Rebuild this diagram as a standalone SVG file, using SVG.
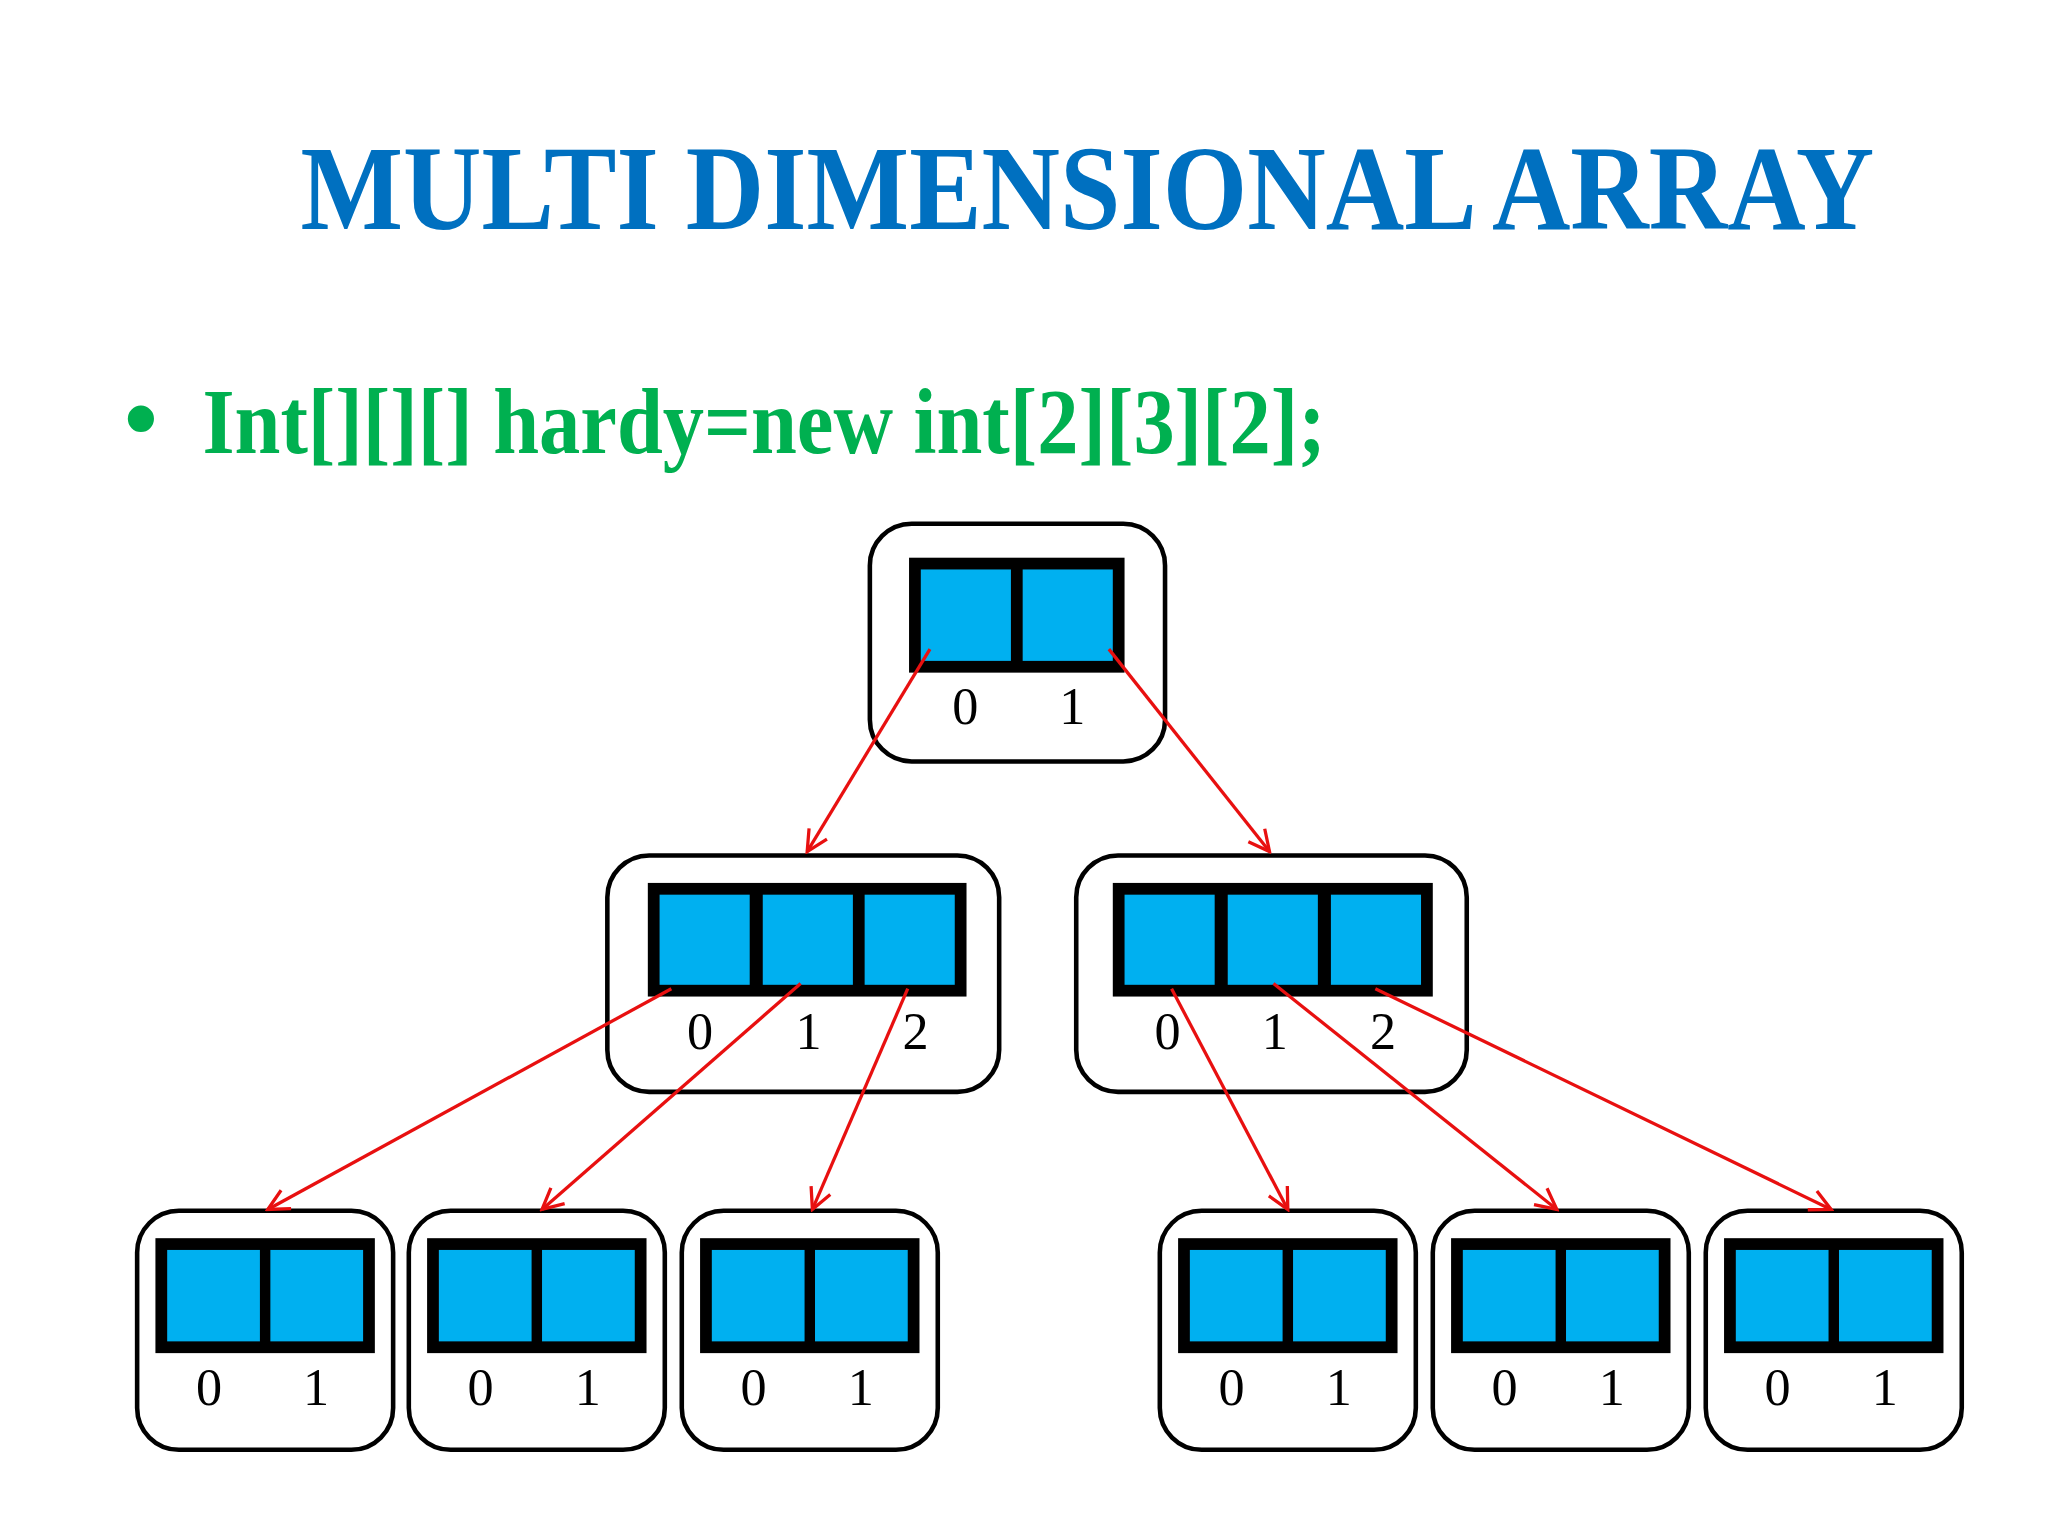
<svg xmlns="http://www.w3.org/2000/svg" width="2048" height="1536" viewBox="0 0 2048 1536">
<defs>
<style>
.box{fill:#fff;stroke:#000;stroke-width:3.5}
.arr{fill:#000}
.cell{fill:#00B0F0}
.lbl{font-family:"Liberation Serif",serif;font-size:40px;fill:#000;text-anchor:middle}
.con{stroke:#E81010;stroke-width:2.5;fill:none;marker-end:url(#ah)}
</style>
<marker id="ah" viewBox="0 0 20 20" refX="18" refY="10" markerWidth="20" markerHeight="20" markerUnits="userSpaceOnUse" orient="auto">
<path d="M2,2 L18,10 L2,18" fill="none" stroke="#E81010" stroke-width="2.5"/>
</marker>
</defs>
<rect width="2048" height="1536" fill="#fff"/>
<g transform="scale(1.3061)">
<text x="230" y="175" font-family="Liberation Serif,serif" font-weight="bold" font-size="93" fill="#0070C0" textLength="1205" lengthAdjust="spacingAndGlyphs">MULTI DIMENSIONAL ARRAY</text>
<text x="95" y="345" font-family="Liberation Serif,serif" font-weight="bold" font-size="74" fill="#00B050">•</text>
<text x="155" y="347" font-family="Liberation Serif,serif" font-weight="bold" font-size="72" fill="#00B050" textLength="860" lengthAdjust="spacingAndGlyphs">Int[][][] hardy=new int[2][3][2];</text>

<g id="top">
<rect class="box" x="666" y="401" width="226" height="182" rx="32"/>
<rect class="arr" x="696" y="427" width="165" height="88"/>
<rect class="cell" x="705" y="436" width="69" height="70"/>
<rect class="cell" x="783" y="436" width="69" height="70"/>
<text class="lbl" x="739" y="554">0</text><text class="lbl" x="821" y="554">1</text>
</g>
<g id="midL">
<rect class="box" x="465" y="655" width="300" height="181" rx="32"/>
<rect class="arr" x="496" y="676" width="244" height="87"/>
<rect class="cell" x="505" y="685" width="69" height="69"/>
<rect class="cell" x="584" y="685" width="69" height="69"/>
<rect class="cell" x="662" y="685" width="69" height="69"/>
<text class="lbl" x="536" y="803">0</text><text class="lbl" x="619" y="803">1</text><text class="lbl" x="701" y="803">2</text>
</g>
<g id="midR">
<rect class="box" x="824" y="655" width="299" height="181" rx="32"/>
<rect class="arr" x="852" y="676" width="245" height="87"/>
<rect class="cell" x="861" y="685" width="69" height="69"/>
<rect class="cell" x="940" y="685" width="69" height="69"/>
<rect class="cell" x="1019" y="685" width="69" height="69"/>
<text class="lbl" x="894" y="803">0</text><text class="lbl" x="976" y="803">1</text><text class="lbl" x="1059" y="803">2</text>
</g>
<g id="b1" transform="translate(105,927)"><rect class="box" x="0" y="0" width="196" height="183" rx="32"/><rect class="arr" x="14" y="21" width="168" height="88"/><rect class="cell" x="23" y="30" width="71" height="70"/><rect class="cell" x="102" y="30" width="71" height="70"/><text class="lbl" x="55" y="149">0</text><text class="lbl" x="137" y="149">1</text></g>
<g id="b2" transform="translate(313,927)"><rect class="box" x="0" y="0" width="196" height="183" rx="32"/><rect class="arr" x="14" y="21" width="168" height="88"/><rect class="cell" x="23" y="30" width="71" height="70"/><rect class="cell" x="102" y="30" width="71" height="70"/><text class="lbl" x="55" y="149">0</text><text class="lbl" x="137" y="149">1</text></g>
<g id="b3" transform="translate(522,927)"><rect class="box" x="0" y="0" width="196" height="183" rx="32"/><rect class="arr" x="14" y="21" width="168" height="88"/><rect class="cell" x="23" y="30" width="71" height="70"/><rect class="cell" x="102" y="30" width="71" height="70"/><text class="lbl" x="55" y="149">0</text><text class="lbl" x="137" y="149">1</text></g>
<g id="b4" transform="translate(888,927)"><rect class="box" x="0" y="0" width="196" height="183" rx="32"/><rect class="arr" x="14" y="21" width="168" height="88"/><rect class="cell" x="23" y="30" width="71" height="70"/><rect class="cell" x="102" y="30" width="71" height="70"/><text class="lbl" x="55" y="149">0</text><text class="lbl" x="137" y="149">1</text></g>
<g id="b5" transform="translate(1097,927)"><rect class="box" x="0" y="0" width="196" height="183" rx="32"/><rect class="arr" x="14" y="21" width="168" height="88"/><rect class="cell" x="23" y="30" width="71" height="70"/><rect class="cell" x="102" y="30" width="71" height="70"/><text class="lbl" x="55" y="149">0</text><text class="lbl" x="137" y="149">1</text></g>
<g id="b6" transform="translate(1306,927)"><rect class="box" x="0" y="0" width="196" height="183" rx="32"/><rect class="arr" x="14" y="21" width="168" height="88"/><rect class="cell" x="23" y="30" width="71" height="70"/><rect class="cell" x="102" y="30" width="71" height="70"/><text class="lbl" x="55" y="149">0</text><text class="lbl" x="137" y="149">1</text></g>

<g id="connectors">
<line class="con" x1="712" y1="497" x2="618" y2="652"/>
<line class="con" x1="849" y1="497" x2="972" y2="652"/>
<line class="con" x1="514" y1="757" x2="205" y2="926"/>
<line class="con" x1="613" y1="753" x2="415" y2="926"/>
<line class="con" x1="695" y1="757" x2="622" y2="926"/>
<line class="con" x1="897" y1="757" x2="986" y2="926"/>
<line class="con" x1="975" y1="753" x2="1192" y2="926"/>
<line class="con" x1="1053" y1="757" x2="1402" y2="926"/>
</g>
</g>
</svg>
